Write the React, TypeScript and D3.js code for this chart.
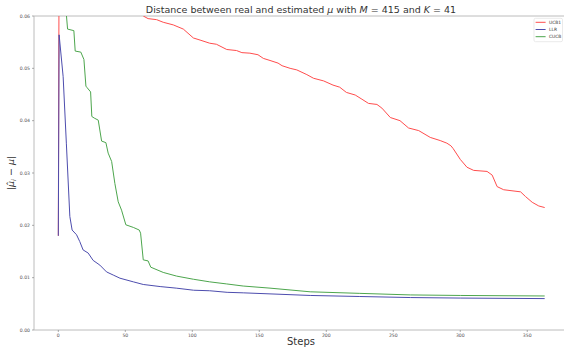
import React from 'react'
import * as d3 from 'd3'

// valores (passo, distância)
const ucbSteps = [0, 1, 20, 45, 63.4, 67, 73.4, 78.3, 85.8, 93.3, 100.8, 105.8, 113, 118, 125.7, 133, 137, 143, 149, 153, 158, 164, 167, 173, 178, 185.5, 190.5, 198, 205, 210, 215, 221.6, 226.6, 231.5, 237.8, 241.5, 247.8, 255, 261.4, 269, 277.6, 285, 290, 293, 294.6, 300, 305, 310, 320, 323.8, 327.5, 332.4, 345, 348.7, 353.7, 358.6, 363]
const ucbValues = [0.018, 0.11, 0.078, 0.065, 0.06, 0.0595, 0.0593, 0.0588, 0.0583, 0.0575, 0.0558, 0.0554, 0.0548, 0.0546, 0.0536, 0.0534, 0.053, 0.0529, 0.0526, 0.0519, 0.0515, 0.051, 0.0505, 0.05, 0.0497, 0.0488, 0.0481, 0.0476, 0.0468, 0.0464, 0.0454, 0.0449, 0.0441, 0.0433, 0.0431, 0.0424, 0.0406, 0.04, 0.0386, 0.0381, 0.0368, 0.0362, 0.0357, 0.0352, 0.0347, 0.0326, 0.0311, 0.0305, 0.0303, 0.0296, 0.0274, 0.0268, 0.0264, 0.0255, 0.0244, 0.0237, 0.0234]

const llrSteps = [0, 0.6, 3.6, 6, 8.6, 10.3, 13.6, 16, 18.5, 22.3, 26, 31, 36, 41, 46, 56, 63.4, 76, 88, 101, 113, 126, 138, 158, 188, 225, 263, 300, 363]
const llrValues = [0.018, 0.0564, 0.0484, 0.0357, 0.0217, 0.0191, 0.0182, 0.0169, 0.0153, 0.0147, 0.0133, 0.0124, 0.0111, 0.0105, 0.0099, 0.0092, 0.0087, 0.0083, 0.008, 0.0076, 0.0075, 0.0072, 0.0071, 0.0069, 0.0066, 0.0064, 0.0062, 0.0061, 0.006]

const cucbSteps = [0, 5, 6.1, 6.9, 11.6, 12.6, 16.8, 19.1, 20.6, 21.5, 24.1, 25, 26.8, 29.8, 32.3, 35.5, 37.2, 39.8, 42.2, 44.7, 47.2, 50.4, 56, 60.4, 61.4, 63.4, 67, 69, 78.3, 88.3, 100.8, 113, 125.7, 138, 158, 188, 225, 263, 300, 363]
const cucbValues = [0.095, 0.063, 0.06, 0.0575, 0.0572, 0.0533, 0.0531, 0.0517, 0.0466, 0.0463, 0.0455, 0.0408, 0.0405, 0.0401, 0.0361, 0.0358, 0.0338, 0.0322, 0.028, 0.0245, 0.0229, 0.0201, 0.0196, 0.0191, 0.0185, 0.0134, 0.0132, 0.012, 0.011, 0.0103, 0.0097, 0.0092, 0.0088, 0.0084, 0.008, 0.0073, 0.007, 0.0067, 0.0066, 0.0065]

const seriesNames = ['UCB1', 'LLR', 'CUCB']
const seriesColors = ['#ff4d4d', '#4d4dae', '#4da64d']
const xTicks = [0, 50, 100, 150, 200, 250, 300, 350]
const yTicks = [0, 0.01, 0.02, 0.03, 0.04, 0.05, 0.06]

const W = 564
const H = 349
const plot = { left: 34, right: 569, top: 16, bottom: 330 }

export default function App() {
  const x = d3.scaleLinear().domain([-18.15, 381.15]).range([plot.left, plot.right])
  const y = d3.scaleLinear().domain([0, 0.06]).range([plot.bottom, plot.top])

  const line = d3.line<[number, number]>()
    .x(d => x(d[0]))
    .y(d => y(d[1]))

  const series = [
    { steps: ucbSteps, values: ucbValues },
    { steps: llrSteps, values: llrValues },
    { steps: cucbSteps, values: cucbValues }
  ]

  const tickFont = 'DejaVu Sans, sans-serif'
  const spine = '#bcbcbc'
  const legX = 534

  return (
    <svg width={W} height={H} style={{ position: 'absolute', left: 0, top: 0, background: '#fff' }}>
      <defs>
        <clipPath id="plotClip">
          <rect x={plot.left} y={plot.top} width={plot.right - plot.left} height={plot.bottom - plot.top} />
        </clipPath>
      </defs>

      {/* bordas */}
      <line x1={plot.left} x2={plot.right} y1={plot.top} y2={plot.top} stroke={spine} strokeWidth={1} />
      <line x1={plot.left} x2={plot.right} y1={plot.bottom} y2={plot.bottom} stroke={spine} strokeWidth={1} />
      <line x1={plot.left} x2={plot.left} y1={plot.top} y2={plot.bottom} stroke={spine} strokeWidth={1} />

      {/* eixo Y */}
      {yTicks.map(t => (
        <g key={'y' + t}>
          <line x1={plot.left - 2} x2={plot.left} y1={y(t)} y2={y(t)} stroke="#777" strokeWidth={0.6} />
          <text x={plot.left - 4} y={y(t)} dy="0.35em" textAnchor="end" fontSize={4.6} fill="#555" fontFamily={tickFont}>
            {d3.format('.2f')(t)}
          </text>
        </g>
      ))}

      {/* eixo X */}
      {xTicks.map(t => (
        <g key={'x' + t}>
          <line x1={x(t)} x2={x(t)} y1={plot.bottom} y2={plot.bottom + 2} stroke="#777" strokeWidth={0.6} />
          <text x={x(t)} y={plot.bottom + 7} textAnchor="middle" fontSize={4.6} fill="#555" fontFamily={tickFont}>
            {t}
          </text>
        </g>
      ))}

      {/* linhas */}
      <g clipPath="url(#plotClip)">
        {series.map((s, i) => (
          <path
            key={seriesNames[i]}
            d={line(s.steps.map((st, j) => [st, s.values[j]] as [number, number])) || ''}
            fill="none"
            stroke={seriesColors[i]}
            strokeWidth={1}
            strokeLinejoin="round"
          />
        ))}
      </g>

      {/* título */}
      <text x={301} y={12.5} textAnchor="middle" fontSize={9.5} fill="#333" fontFamily={tickFont}>
        Distance between real and estimated <tspan fontStyle="italic">μ</tspan> with <tspan fontStyle="italic">M</tspan> = 415 and <tspan fontStyle="italic">K</tspan> = 41
      </text>

      {/* rótulos dos eixos */}
      <text x={301} y={345} textAnchor="middle" fontSize={10} fill="#333" fontFamily={tickFont}>Steps</text>
      <text transform="translate(14,173) rotate(-90)" textAnchor="middle" fontSize={9.5} fill="#333" fontFamily={tickFont}>
        |<tspan fontStyle="italic">μ̂</tspan><tspan fontStyle="italic" fontSize={6.5} dy={2}>i</tspan><tspan dy={-2}> − </tspan><tspan fontStyle="italic">μ</tspan>|
      </text>

      {/* legenda */}
      <rect x={legX} y={18.3} width={28.5} height={23.4} rx={1.5} fill="#fff" stroke="#dcdcdc" strokeWidth={0.6} />
      {seriesNames.map((n, i) => (
        <g key={'leg' + n}>
          <line x1={legX + 1.6} x2={legX + 11.6} y1={22.3 + i * 7.2} y2={22.3 + i * 7.2} stroke={seriesColors[i]} strokeWidth={1} />
          <text x={legX + 15} y={22.3 + i * 7.2} dy="0.35em" fontSize={4.4} fill="#333" fontFamily={tickFont}>{n}</text>
        </g>
      ))}
    </svg>
  )
}
